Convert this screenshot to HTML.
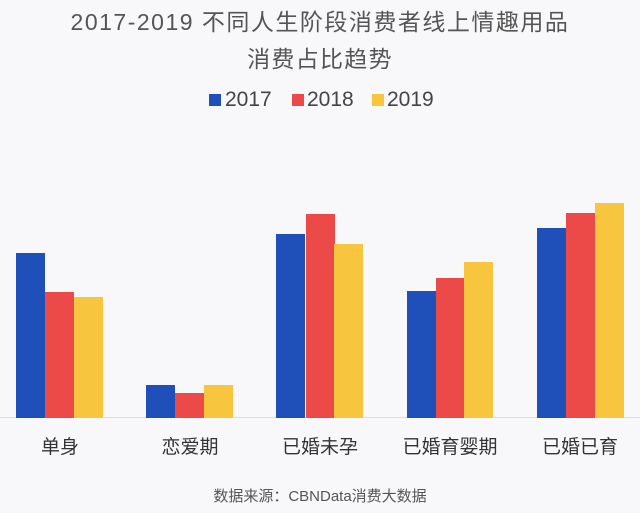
<!DOCTYPE html>
<html><head><meta charset="utf-8"><style>
html,body{margin:0;padding:0}
body{width:640px;height:513px;background:#f8f8fa;position:relative;overflow:hidden;font-family:"Liberation Sans","Noto Sans CJK SC",sans-serif;color:#444}
.t{position:absolute;left:0;width:640px;text-align:center;white-space:nowrap}
.b{position:absolute;width:29px}
.l{position:absolute;top:432px;width:120px;text-align:center;font-size:19px;color:#333}
.sq{position:absolute;top:94px;width:12px;height:12px}
.lt{position:absolute;top:88px;font-size:21px;color:#444}
</style></head><body>
<div class="t" style="top:3px;font-size:23px;letter-spacing:1.5px;color:#555">2017-2019 不同人生阶段消费者线上情趣用品</div>
<div class="t" style="top:40px;font-size:23px;letter-spacing:1.3px;color:#555">消费占比趋势</div>
<div class="sq" style="left:209px;background:#1f4fb8"></div><div class="lt" style="left:225px">2017</div>
<div class="sq" style="left:292px;background:#ec4a48"></div><div class="lt" style="left:307px">2018</div>
<div class="sq" style="left:372px;background:#f8c63e"></div><div class="lt" style="left:387px">2019</div>

<div style="position:absolute;left:0;top:417px;width:640px;height:1px;background:#ddd"></div>

<div class="b" style="left:16px;top:253px;height:165px;background:#1f4fb8"></div>
<div class="b" style="left:45px;top:292px;height:126px;background:#ec4a48"></div>
<div class="b" style="left:74px;top:297px;height:121px;background:#f8c63e"></div>

<div class="b" style="left:146px;top:385px;height:33px;background:#1f4fb8"></div>
<div class="b" style="left:175px;top:393px;height:25px;background:#ec4a48"></div>
<div class="b" style="left:204px;top:385px;height:33px;background:#f8c63e"></div>

<div class="b" style="left:276px;top:234px;height:184px;background:#1f4fb8"></div>
<div class="b" style="left:306px;top:214px;height:204px;background:#ec4a48"></div>
<div class="b" style="left:334px;top:244px;height:174px;background:#f8c63e"></div>

<div class="b" style="left:407px;top:291px;height:127px;background:#1f4fb8"></div>
<div class="b" style="left:436px;top:278px;height:140px;background:#ec4a48"></div>
<div class="b" style="left:464px;top:262px;height:156px;background:#f8c63e"></div>

<div class="b" style="left:537px;top:228px;height:190px;background:#1f4fb8"></div>
<div class="b" style="left:566px;top:213px;height:205px;background:#ec4a48"></div>
<div class="b" style="left:595px;top:203px;height:215px;background:#f8c63e"></div>

<div class="l" style="left:0px">单身</div>
<div class="l" style="left:130px">恋爱期</div>
<div class="l" style="left:260px">已婚未孕</div>
<div class="l" style="left:390px">已婚育婴期</div>
<div class="l" style="left:520px">已婚已育</div>

<div class="t" style="top:485px;font-size:15px;color:#555">数据来源：CBNData消费大数据</div>
</body></html>
